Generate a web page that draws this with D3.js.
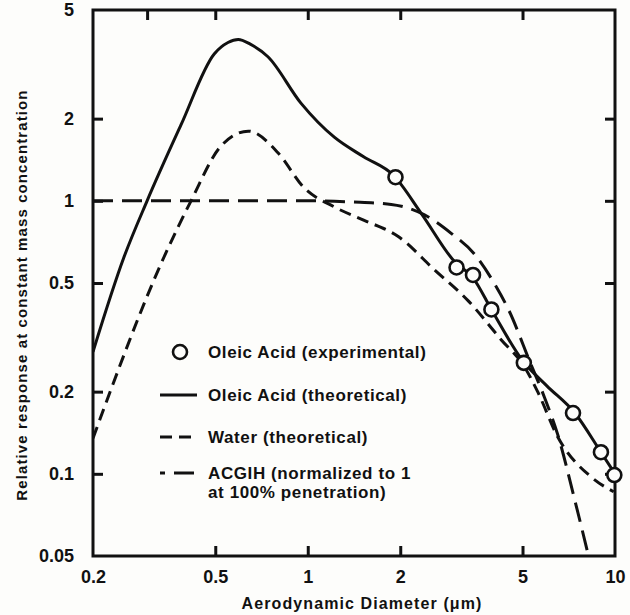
<!DOCTYPE html>
<html>
<head>
<meta charset="utf-8">
<script src="https://cdn.jsdelivr.net/npm/d3@7"></script>
<style>
  body { margin: 0; background: #fdfdfb; }
  svg { display: block; }
  text { font-family: "Liberation Sans", Arial, sans-serif; font-weight: bold; fill: #111; }
</style>
</head>
<body>
<svg id="chart" width="630" height="615"></svg>
<script>
// values (diameter in um, relative response)
var oleicTheory = [[0.2,0.28],[0.252,0.62],[0.30,1.0],[0.387,1.9],[0.496,3.45],
  [0.55,3.8],[0.594,3.9],[0.65,3.75],[0.742,3.37],[0.95,2.28],[1.22,1.71],[1.52,1.45],
  [1.9,1.24],[2.34,0.9],[3.0,0.6],[3.46,0.52],[3.96,0.40],[5.0,0.26],[6.0,0.21],
  [7.4,0.167],[9.0,0.12],[10,0.1]];
var oleicExp = [[1.93,1.22],[3.05,0.57],[3.45,0.535],[3.96,0.40],[5.05,0.255],[7.3,0.167],[9.0,0.12],[9.95,0.099]];
var water = [[0.2,0.135],[0.34,0.62],[0.417,1.0],[0.52,1.58],[0.64,1.8],[0.8,1.5],
  [0.97,1.12],[1.22,0.95],[1.52,0.85],[1.97,0.74],[2.58,0.56],[3.33,0.43],[4.26,0.31],
  [5.08,0.246],[5.6,0.2],[6.5,0.137],[8.4,0.097],[9.9,0.086]];
var acgih = [[0.2,1.0],[0.5,1.0],[1.0,1.0],[1.39,0.99],[1.87,0.97],[2.39,0.89],[2.93,0.76],
  [3.48,0.64],[4.04,0.5],[4.5,0.40],[5.3,0.255],[5.9,0.19],[6.5,0.14],[7.4,0.08],[8.2,0.05]];

var xTicks = [0.2, 0.5, 1, 2, 5, 10];
var xTopTicks = [0.3, 0.5, 1, 2, 5];
var yTicks = [0.05, 0.1, 0.2, 0.5, 1, 2, 5];
var legendItems = ["Oleic Acid (experimental)", "Oleic Acid (theoretical)", "Water (theoretical)",
  "ACGIH (normalized to 1", "at 100% penetration)"];

var svg = d3.select("#chart");
var mLeft = 93, mRight = 615, mTop = 10, mBottom = 556;

var x = d3.scaleLog().domain([0.2, 10]).range([mLeft, mRight]);
var y = d3.scaleLog().domain([0.05, 5]).range([mBottom, mTop]);

svg.append("clipPath").attr("id", "clip")
  .append("rect").attr("x", mLeft).attr("y", mTop).attr("width", mRight - mLeft).attr("height", mBottom - mTop);

// axes, ticks pointing inward
var fmt = function (d) { return String(d); };
var gx = svg.append("g").attr("transform", "translate(0," + mBottom + ")")
  .call(d3.axisBottom(x).tickValues(xTicks).tickSize(-10).tickPadding(14).tickFormat(fmt));
var gxt = svg.append("g").attr("transform", "translate(0," + mTop + ")")
  .call(d3.axisTop(x).tickValues(xTopTicks).tickSize(-10).tickFormat(""));
var gy = svg.append("g").attr("transform", "translate(" + mLeft + ",0)")
  .call(d3.axisLeft(y).tickValues(yTicks).tickSize(-10).tickPadding(19).tickFormat(fmt));
var gyr = svg.append("g").attr("transform", "translate(" + mRight + ",0)")
  .call(d3.axisRight(y).tickValues(yTicks.slice(1, 6)).tickSize(-10).tickFormat(""));

[gx, gxt, gy, gyr].forEach(function (g) {
  g.select(".domain").remove();
  g.selectAll("line").attr("stroke", "#111").attr("stroke-width", 3);
  g.selectAll("text").attr("font-size", 18).attr("font-family", null).attr("fill", "#111");
});
gx.selectAll(".tick").filter(function (d) { return d === 0.2 || d === 10; }).select("line").remove();
gy.selectAll(".tick").filter(function (d) { return d === 0.05 || d === 5; }).select("line").remove();

svg.append("rect").attr("x", mLeft).attr("y", mTop)
  .attr("width", mRight - mLeft).attr("height", mBottom - mTop)
  .attr("fill", "none").attr("stroke", "#111").attr("stroke-width", 3);

// axis titles
svg.append("text").attr("x", 362).attr("y", 609).attr("text-anchor", "middle")
  .attr("font-size", 16).attr("letter-spacing", 1.1).text("Aerodynamic Diameter (\u03bcm)");
svg.append("text").attr("transform", "translate(27,295) rotate(-90)").attr("text-anchor", "middle")
  .attr("font-size", 15).attr("letter-spacing", 1.1).text("Relative response at constant mass concentration");

// curves
var line = d3.line().x(function (d) { return x(d[0]); }).y(function (d) { return y(d[1]); })
  .curve(d3.curveMonotoneX);
var plot = svg.append("g").attr("clip-path", "url(#clip)");

plot.append("path").datum(acgih).attr("d", line).attr("fill", "none")
  .attr("stroke", "#111").attr("stroke-width", 3).attr("stroke-dasharray", "20,9");
plot.append("path").datum(water).attr("d", line).attr("fill", "none")
  .attr("stroke", "#111").attr("stroke-width", 3).attr("stroke-dasharray", "12,7");
plot.append("path").datum(oleicTheory).attr("d", line).attr("fill", "none")
  .attr("stroke", "#111").attr("stroke-width", 3);

svg.append("g").selectAll("circle").data(oleicExp).join("circle")
  .attr("cx", function (d) { return x(d[0]); }).attr("cy", function (d) { return y(d[1]); })
  .attr("r", 7).attr("fill", "#fdfdfb").attr("stroke", "#111").attr("stroke-width", 2.6);

// legend
var lg = svg.append("g");
lg.append("circle").attr("cx", 180).attr("cy", 352).attr("r", 7)
  .attr("fill", "#fdfdfb").attr("stroke", "#111").attr("stroke-width", 2.6);
var legendY = [352, 395, 437, 473, 492];
var legendDash = [null, null, "12,7", "20,9"];
[1, 2, 3].forEach(function (i) {
  lg.append("line").attr("x1", 160).attr("x2", 197).attr("y1", legendY[i]).attr("y2", legendY[i])
    .attr("stroke", "#111").attr("stroke-width", 3)
    .attr("stroke-dasharray", legendDash[i]).attr("stroke-dashoffset", i === 3 ? 15 : 0);
});
legendItems.forEach(function (t, i) {
  lg.append("text").attr("x", 208).attr("y", legendY[i]).attr("dy", "0.35em")
    .attr("font-size", 17).attr("letter-spacing", 0.6).text(t);
});
</script>
</body>
</html>
